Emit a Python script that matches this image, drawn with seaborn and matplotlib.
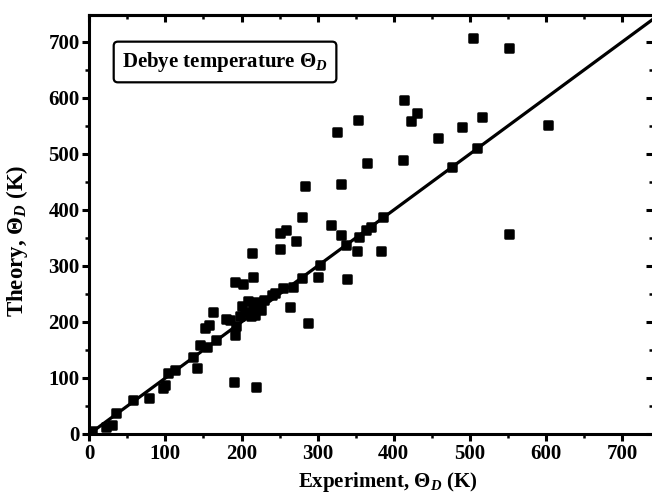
import numpy as np
import pandas as pd
import seaborn as sns
import matplotlib.pyplot as plt
from matplotlib.ticker import MultipleLocator

# Debye temperatures (K): experiment vs theory
experiment = [3, 22, 30, 35, 57, 79, 97, 99, 104, 113, 136, 141, 145, 154, 166,
              152, 157, 163, 179, 185, 191, 193, 190, 219, 191, 202, 215, 214,
              200, 205, 208, 212, 215, 218, 220, 226, 198, 230, 240, 244, 255,
              268, 264, 250, 251, 258, 272, 279, 284, 287, 279, 300, 303, 317,
              326, 331, 331, 339, 337, 352, 354, 363, 370, 383, 386, 353, 365,
              412, 414, 423, 430, 458, 476, 490, 504, 510, 516, 552, 552, 602]
theory = [5, 12, 16, 38, 60, 64, 82, 88, 108, 115, 138, 117, 158, 156, 168,
          189, 195, 218, 205, 204, 177, 192, 92, 83, 272, 268, 281, 323,
          228, 218, 238, 210, 225, 213, 235, 221, 210, 240, 248, 251, 260,
          263, 226, 330, 359, 364, 345, 388, 442, 198, 278, 280, 302, 373,
          539, 447, 355, 277, 337, 327, 351, 364, 370, 326, 387, 561, 484,
          490, 596, 558, 573, 528, 476, 548, 707, 510, 566, 690, 357, 552]

df = pd.DataFrame({"experiment": experiment, "theory": theory})

sns.set_theme(style="ticks")
plt.rcParams.update({
    "font.family": ["Liberation Serif", "DejaVu Serif"],
    "font.weight": "bold",
    "text.color": "black",
    "axes.labelcolor": "black",
    "xtick.color": "black",
    "ytick.color": "black",
    "axes.edgecolor": "black",
    "mathtext.fontset": "custom",
    "mathtext.rm": "Liberation Serif:bold",
    "mathtext.it": "Liberation Serif:bold:italic",
    "mathtext.bf": "Liberation Serif:bold",
    "axes.linewidth": 2.2,
})

fig = plt.figure(figsize=(6.52, 4.94), dpi=100)
ax = fig.add_axes([0.137, 0.1215, 0.865, 0.848])

# ideal agreement line
ax.axline((0, 0), slope=1, color="black", linewidth=2.3, zorder=2)

sns.scatterplot(data=df, x="experiment", y="theory", ax=ax, color="black",
                marker="s", s=36, edgecolor="black", linewidth=1.8, zorder=3,
                legend=False)

ax.set_xlim(0, 741)
ax.set_ylim(0, 748)
ax.xaxis.set_major_locator(MultipleLocator(100))
ax.xaxis.set_minor_locator(MultipleLocator(50))
ax.yaxis.set_major_locator(MultipleLocator(100))
ax.yaxis.set_minor_locator(MultipleLocator(50))
ax.tick_params(which="major", direction="out", length=5, width=2.2,
               labelsize=15, pad=2)
ax.tick_params(which="minor", direction="out", length=3, width=1.8)
for lab in ax.get_xticklabels() + ax.get_yticklabels():
    lab.set_fontweight("bold")

# inward ticks on top and right
top = ax.secondary_xaxis("top")
top.xaxis.set_major_locator(MultipleLocator(100))
top.xaxis.set_minor_locator(MultipleLocator(50))
top.tick_params(which="major", direction="in", length=5, width=2.2, labeltop=False)
top.tick_params(which="minor", direction="in", length=3, width=1.8)
right = ax.secondary_yaxis("right")
right.yaxis.set_major_locator(MultipleLocator(100))
right.yaxis.set_minor_locator(MultipleLocator(50))
right.tick_params(which="major", direction="in", length=5, width=2.2, labelright=False)
right.tick_params(which="minor", direction="in", length=3, width=1.8)

ax.set_xlabel(r"Experiment, $\mathrm{\Theta}_D$ (K)", fontsize=15, fontweight="bold")
ax.set_ylabel(r"Theory, $\mathrm{\Theta}_D$ (K)", fontsize=16.5, fontweight="bold")
ax.xaxis.set_label_coords(0.53, -0.085)
ax.yaxis.set_label_coords(-0.105, 0.46)

ax.text(0.058, 0.888, r"Debye temperature $\mathrm{\Theta}_D$", transform=ax.transAxes,
        fontsize=15, fontweight="bold", va="center", ha="left",
        bbox=dict(boxstyle="round,pad=0.4,rounding_size=0.2", facecolor="white",
                  edgecolor="black", linewidth=1.6))

fig.savefig("out.png", dpi=100)
